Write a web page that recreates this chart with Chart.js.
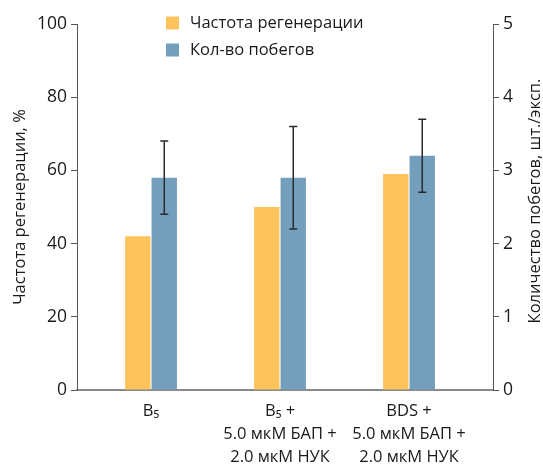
<html>
<head>
<script src="https://cdn.jsdelivr.net/npm/chart.js@4/dist/chart.umd.min.js"></script>
<style>
  body { margin: 0; background: #fff; }
  #wrap { width: 543px; height: 466px; }
</style>
</head>
<body>
<div id="wrap"><canvas id="myChart" width="543" height="466"></canvas></div>
<script>
// data
var categories = [["B\u2085"], ["B\u2085 +", "5.0 мкМ БАП +", "2.0 мкМ НУК"], ["BDS +", "5.0 мкМ БАП +", "2.0 мкМ НУК"]];
var regenPercent = [42, 50, 59];       // left axis, %
var shoots = [2.9, 2.9, 3.2];          // right axis, pcs/expl
var shootsErr = [0.5, 0.7, 0.5];
var seriesNames = ["Частота регенерации", "Кол-во побегов"];
var leftTicks = [0, 20, 40, 60, 80, 100];
var rightTicks = [0, 1, 2, 3, 4, 5];

var FONT = "'Open Sans', sans-serif";
var orange = "#FEC35A";
var blue = "#739FBC";
var textCol = "#1a1a1a";

var errorBars = {
  id: "errorBars",
  afterDatasetsDraw: function (chart) {
    var meta = chart.getDatasetMeta(1);
    var y2 = chart.scales.y2;
    var ctx = chart.ctx;
    ctx.save();
    ctx.strokeStyle = "#2b2b2b";
    ctx.lineWidth = 1.5;
    meta.data.forEach(function (bar, i) {
      var top = y2.getPixelForValue(shoots[i] + shootsErr[i]);
      var bot = y2.getPixelForValue(shoots[i] - shootsErr[i]);
      ctx.beginPath();
      ctx.moveTo(bar.x, top); ctx.lineTo(bar.x, bot);
      ctx.moveTo(bar.x - 4, top); ctx.lineTo(bar.x + 4, top);
      ctx.moveTo(bar.x - 4, bot); ctx.lineTo(bar.x + 4, bot);
      ctx.stroke();
    });
    ctx.restore();
  }
};

var extras = {
  id: "extras",
  afterDraw: function (chart) {
    var ctx = chart.ctx;
    var a = chart.chartArea;
    ctx.save();
    ctx.font = "16.5px " + FONT;
    ctx.textBaseline = "middle";
    var cols = [orange, blue];
    seriesNames.forEach(function (name, i) {
      var y = a.top - 1 + i * 27;
      ctx.fillStyle = cols[i];
      ctx.fillRect(a.left + 89, y - 6.5, 13, 13);
      ctx.fillStyle = textCol;
      ctx.textAlign = "left";
      ctx.fillText(name, a.left + 113, y);
    });
    // right axis title, reading bottom to top
    ctx.translate(535, 201);
    ctx.rotate(-Math.PI / 2);
    ctx.textAlign = "center";
    ctx.fillText("Количество побегов, шт./эксп.", 0, 0);
    ctx.restore();
  }
};

var ctx = document.getElementById("myChart").getContext("2d");
var myChart = new Chart(ctx, {
  type: "bar",
  data: {
    datasets: [{
      label: seriesNames[0],
      data: regenPercent.map(function (v, i) { return { x: i, y: v }; }),
      backgroundColor: orange,
      yAxisID: "y"
    }, {
      label: seriesNames[1],
      data: shoots.map(function (v, i) { return { x: i, y: v }; }),
      backgroundColor: blue,
      yAxisID: "y2"
    }]
  },
  options: {
    responsive: false,
    animation: false,
    layout: { padding: { top: 24 } },
    datasets: { bar: { categoryPercentage: 0.41, barPercentage: 0.96 } },
    plugins: { legend: { display: false }, tooltip: { enabled: false } },
    scales: {
      x: {
        type: "linear",
        offset: false,
        min: -0.574,
        max: 2.651,
        afterBuildTicks: function (s) { s.ticks = categories.map(function (c, i) { return { value: i }; }); },
        afterFit: function (s) { s.height = 76; },
        grid: { display: false, offset: false },
        border: { color: "#8a8a8a", width: 2 },
        ticks: {
          color: textCol,
          font: { family: FONT, size: 16.5, lineHeight: 1.38 },
          padding: 2,
          maxRotation: 0,
          autoSkip: false,
          callback: function (v) { return categories[v]; }
        }
      },
      y: {
        position: "left",
        min: 0, max: 100,
        afterBuildTicks: function (s) { s.ticks = leftTicks.map(function (v) { return { value: v }; }); },
        afterFit: function (s) { s.width = 77; },
        grid: { drawOnChartArea: false, tickLength: 6, color: "#555" },
        border: { color: "#555", width: 1 },
        ticks: { color: textCol, font: { family: FONT, size: 17.5 }, padding: 4 },
        title: { display: true, text: "Частота регенерации, %", color: textCol, font: { family: FONT, size: 16.5 }, padding: { top: 10 } }
      },
      y2: {
        position: "right",
        min: 0, max: 5,
        afterBuildTicks: function (s) { s.ticks = rightTicks.map(function (v) { return { value: v }; }); },
        afterFit: function (s) { s.width = 50; },
        grid: { drawOnChartArea: false, tickLength: 6, color: "#555" },
        border: { color: "#555", width: 1 },
        ticks: { color: textCol, font: { family: FONT, size: 17.5 }, padding: 4 }
      }
    }
  },
  plugins: [errorBars, extras]
});
</script>
</body>
</html>
